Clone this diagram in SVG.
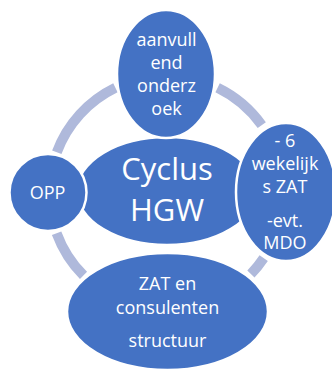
<svg xmlns="http://www.w3.org/2000/svg" width="332" height="372" viewBox="0 0 332 372">
<style>
.node{fill:#4472C4;stroke:#FFFFFF;stroke-width:2.5}
.arc{fill:none;stroke:#AFB9DB;stroke-width:10;stroke-linecap:butt}
text{font-family:"Open Sans","Noto Sans",sans-serif;fill:#FFFFFF;text-anchor:middle}
.s{font-size:18px}
.b{font-size:31px}
</style>
<rect width="332" height="372" fill="#FFFFFF"/>
<g id="connectors">
<path class="arc" d="M115.4 87.7 A117 117 0 0 0 56.8 152.2"/>
<path class="arc" d="M56.6 233.2 A117 117 0 0 0 83.5 275.4"/>
<path class="arc" d="M217.6 87.7 A117 117 0 0 1 261.8 125.1"/>
<path class="arc" d="M263.7 258.1 A117 117 0 0 1 250.9 274.0"/>
</g>
<g id="center">
<ellipse class="node" cx="167" cy="191" rx="90" ry="54"/>
<text class="b" x="167" y="180">Cyclus</text>
<text class="b" x="167" y="221">HGW</text>
</g>
<g id="top">
<ellipse class="node" cx="166" cy="74" rx="49" ry="64"/>
<text class="s" x="166.5" y="46">aanvull</text>
<text class="s" x="166.5" y="69">end</text>
<text class="s" x="166.5" y="92">onderz</text>
<text class="s" x="166.5" y="115">oek</text>
</g>
<g id="left">
<circle class="node" cx="48" cy="192.5" r="38.5"/>
<text class="s" x="47.5" y="199">OPP</text>
</g>
<g id="right">
<ellipse class="node" cx="286" cy="192" rx="50" ry="69"/>
<text class="s" x="285" y="147">- 6</text>
<text class="s" x="285" y="170">wekelijk</text>
<text class="s" x="285" y="193">s ZAT</text>
<text class="s" x="285" y="227">-evt.</text>
<text class="s" x="285" y="249">MDO</text>
</g>
<g id="bottom">
<ellipse class="node" cx="167.5" cy="311.5" rx="100.5" ry="58.5"/>
<text class="s" x="167.5" y="290">ZAT en</text>
<text class="s" x="167.5" y="314">consulenten</text>
<text class="s" x="167.5" y="347">structuur</text>
</g>
</svg>
